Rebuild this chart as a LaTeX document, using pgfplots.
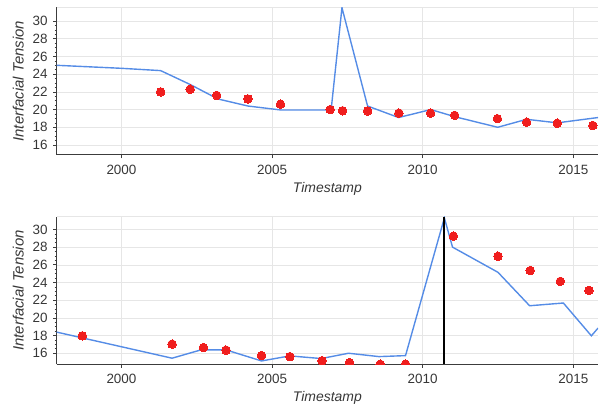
\documentclass[border=0pt]{standalone}
\usepackage{fontspec}
\setmainfont{Liberation Sans}
\usepackage{pgfplots}
\pgfplotsset{compat=1.18}
\definecolor{lineblue}{RGB}{85,140,230}
\definecolor{dotred}{RGB}{240,30,30}
\definecolor{gridc}{RGB}{230,230,230}
\definecolor{axc}{RGB}{60,60,60}
\definecolor{txt}{RGB}{55,55,55}
\pgfplotsset{
  myaxis/.style={
    scale only axis,
    width=541.3bp,
    xmin=1997.85, xmax=2015.82,
    xtick={2000,2005,2010,2015},
    ytick={16,18,...,30},
    minor y tick num=3,
    axis x line*=bottom, axis y line*=left,
    axis line style={axc, line width=1pt},
    tick style={axc, line width=0.7pt},
    major tick length=3.5bp, minor tick length=2bp,
    tick align=outside,
    grid=major,
    major grid style={gridc, line width=0.6pt},
    /pgf/number format/1000 sep={},
    /pgf/number format/assume math mode=true,
    tick label style={font=\fontsize{13.5}{15}\selectfont, text=txt},
    xticklabel style={yshift=-3bp},
    yticklabel style={xshift=-2bp},
    xlabel={Timestamp},
    ylabel={Interfacial Tension},
    xlabel style={font=\fontsize{14}{16}\selectfont\itshape, text=txt, yshift=-1bp},
    ylabel style={font=\fontsize{15}{17}\selectfont\itshape, text=txt, yshift=2bp},
    clip marker paths=true,
  },
  bluel/.style={lineblue, line width=1.4pt, no markers},
  reddots/.style={dotred, only marks, mark=*, mark size=4.3bp, mark options={solid, fill=dotred, draw=dotred, line width=0pt}},
}
\begin{document}
\begin{tikzpicture}
\path[use as bounding box] (0,0) rectangle (605bp,407bp);
\begin{axis}[myaxis, at={(56.7bp,252bp)}, anchor=south west,
  height=147.7bp, ymin=14.87, ymax=31.55]
\draw[gridc, line width=0.6pt] (rel axis cs:0,1) -- (rel axis cs:1,1);
\addplot[bluel] coordinates {
(1997.85,25.0) (2000.0,24.66) (2001.3,24.4) (2002.3,22.8) (2003.2,21.2)
(2004.2,20.4) (2005.3,19.95) (2006.96,19.95) (2007.32,31.5) (2008.17,20.4)
(2009.2,19.1) (2010.27,20.0) (2011.06,19.2) (2012.49,18.0) (2013.45,18.9)
(2014.47,18.5) (2015.82,19.1)
};
\addplot[reddots] coordinates {
(2001.3,22.0) (2002.28,22.3) (2003.16,21.6) (2004.2,21.2) (2005.28,20.6)
(2006.93,20.0) (2007.34,19.87) (2008.17,19.84) (2009.21,19.6) (2010.26,19.6)
(2011.06,19.35) (2012.48,18.97) (2013.45,18.57) (2014.47,18.45) (2015.65,18.2)
};
\end{axis}
\begin{axis}[myaxis, at={(56.7bp,42.7bp)}, anchor=south west,
  height=147.6bp, ymin=14.75, ymax=31.44]
\draw[gridc, line width=0.6pt] (rel axis cs:0,1) -- (rel axis cs:1,1);
\addplot[bluel] coordinates {
(1997.85,18.39) (2001.68,15.44) (2002.64,16.38) (2003.47,16.38) (2004.65,15.13)
(2005.59,15.7) (2006.63,15.4) (2007.54,16.0) (2008.55,15.62) (2009.43,15.73)
(2010.72,31.3) (2010.99,28.0) (2012.5,25.15) (2013.55,21.37) (2014.67,21.68)
(2015.6,17.97) (2015.82,18.84)
};
\addplot[reddots] coordinates {
(1998.7,17.97) (2001.68,17.03) (2002.72,16.64) (2003.47,16.35) (2004.65,15.73)
(2005.59,15.62) (2006.66,15.16) (2007.57,14.94) (2008.59,14.76) (2009.43,14.76)
(2011.02,29.24) (2012.5,26.97) (2013.57,25.35) (2014.57,24.13) (2015.52,23.1)
};
\addplot[black, line width=2pt, no markers] coordinates {(2010.72,14.75) (2010.72,31.44)};
\end{axis}
\end{tikzpicture}
\end{document}
